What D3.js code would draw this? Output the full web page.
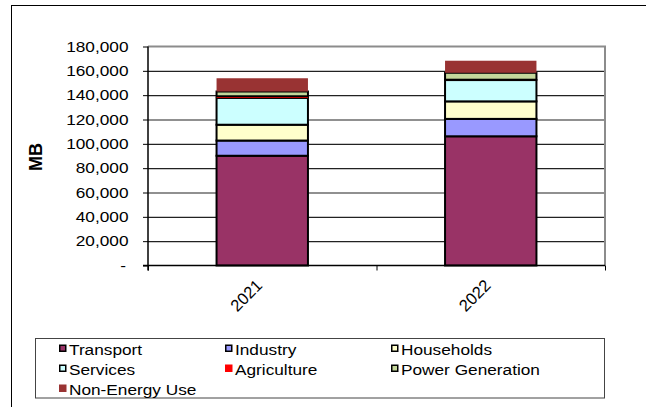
<!DOCTYPE html>
<html><head><meta charset="utf-8">
<script src="https://cdn.jsdelivr.net/npm/d3@7/dist/d3.min.js"></script>
<style>body{margin:0;background:#fff}svg{display:block}text{font-family:"Liberation Sans",Arial,sans-serif}</style>
</head><body><svg id="c" width="646" height="407"></svg>
<script>
const years = ["2021", "2022"];
const seriesNames = ["Transport","Industry","Households","Services","Agriculture","Power Generation","Non-Energy Use"];
const transport   = [90200, 106200];
const industry    = [12500, 14300];
const households  = [13000, 14400];
const services    = [22000, 17500];
const agriculture = [1400, 300];
const powerGen    = [3900, 5700];
const nonEnergy   = [10900, 9900];
const yTicks = [0,20000,40000,60000,80000,100000,120000,140000,160000,180000];
const colors = ["#993366","#9999FF","#FFFFCC","#CCFFFF","#FF0000","#C4D79B","#993333"];
const bordered = [true,true,true,true,false,true,false];

const allVals = [transport,industry,households,services,agriculture,powerGen,nonEnergy];
const rows = years.map((y,i)=>{const r={year:y}; seriesNames.forEach((s,k)=>r[s]=allVals[k][i]); return r;});
const stack = d3.stack().keys(seriesNames)(rows);

const svg = d3.select("#c");
const L=148, R=605, T=46.5, B=265.5;
const x = d3.scaleBand().domain(years).range([L,R]).paddingInner(0.6).paddingOuter(0.3);
const y = d3.scaleLinear().domain([0,180000]).range([B,T]);
const SX = 1.15;

// outer chart border (extends beyond picture)
svg.append("rect").attr("x",11.5).attr("y",5.5).attr("width",700).attr("height",500)
  .attr("fill","none").attr("stroke","#000").attr("stroke-width",1);

// gridlines
svg.append("g").attr("transform",`translate(${L},0)`)
  .call(d3.axisLeft(y).tickValues(yTicks.slice(1,-1)).tickSize(-(R-L)).tickFormat(""))
  .call(g=>{g.select(".domain").remove(); g.selectAll("line").attr("stroke","#222").attr("stroke-width",1.2);});

// plot area border (top/right gray)
svg.append("path").attr("d",`M${L},${T}H${R}V${B}`).attr("fill","none").attr("stroke","#8c8c8c").attr("stroke-width",2);

// bars
const gs = svg.append("g").selectAll("g").data(stack).join("g")
  .attr("fill",(d,i)=>colors[i])
  .attr("stroke",(d,i)=>bordered[i]?"#000":"none")
  .attr("stroke-width",2);
gs.selectAll("rect").data(d=>d).join("rect")
  .attr("x",d=>x(d.data.year)).attr("width",x.bandwidth())
  .attr("y",d=>y(d[1])).attr("height",d=>y(d[0])-y(d[1]));

// y axis
const ya = svg.append("g").attr("transform",`translate(${L},0)`)
  .call(d3.axisLeft(y).tickValues(yTicks).tickSize(5).tickPadding(0)
    .tickFormat(d=>d===0?"-":d3.format(",")(d)));
ya.select(".domain").attr("stroke","#000").attr("stroke-width",1.5).attr("d",`M0,${B+5}V${T}`);
ya.selectAll("line").attr("stroke","#000");
ya.selectAll("text").attr("font-size",15).attr("fill","#000")
  .attr("transform",`scale(${SX},1)`).attr("x",-19.5/SX).attr("font-family","Liberation Sans, Arial, sans-serif");
ya.selectAll(".tick").filter(d=>d===0).select("text").attr("x",-22/SX);

// x axis
const xb = d3.scaleLinear().domain([0,2]).range([L,R]);
const xa = svg.append("g").attr("transform",`translate(0,${B})`)
  .call(d3.axisBottom(xb).tickValues([0,1,2]).tickSize(5).tickFormat(""));
xa.select(".domain").attr("stroke","#000").attr("stroke-width",1.5).attr("d",`M${L-5},0H${R}`);
xa.selectAll("line").attr("stroke","#000");
svg.append("g").selectAll("text").data(years).join("text")
  .attr("transform",d=>`translate(${x(d)+x.bandwidth()/2+1},${B+21}) rotate(-45) scale(1.1,1.1)`)
  .attr("text-anchor","end").attr("font-size",15).text(d=>d);

// y title
svg.append("text").attr("transform","translate(41.5,157) rotate(-90)")
  .attr("text-anchor","middle").attr("font-size",18).attr("font-weight","bold").text("MB");

// legend
svg.append("rect").attr("x",35.5).attr("y",338.5).attr("width",569).attr("height",59.5)
  .attr("fill","none").attr("stroke","#444").attr("stroke-width",1);
const colX=[59,225,391], rowY=[349,369,389];
const lg = svg.append("g").selectAll("g").data(seriesNames).join("g")
  .attr("transform",(d,i)=>`translate(${colX[i%3]},${rowY[Math.floor(i/3)]})`);
lg.append("rect").attr("x",(d,i)=>bordered[i]?0.75:0).attr("y",(d,i)=>bordered[i]?-3.75:-4.5)
  .attr("width",(d,i)=>bordered[i]?6:7.5).attr("height",(d,i)=>bordered[i]?6:7.5)
  .attr("fill",(d,i)=>colors[i]).attr("stroke",(d,i)=>bordered[i]?"#000":"none").attr("stroke-width",1.5);
lg.append("text").attr("y",5.5).attr("font-size",15)
  .attr("transform",`scale(${SX},1)`).attr("x",10/SX).text(d=>d);
</script></body></html>
